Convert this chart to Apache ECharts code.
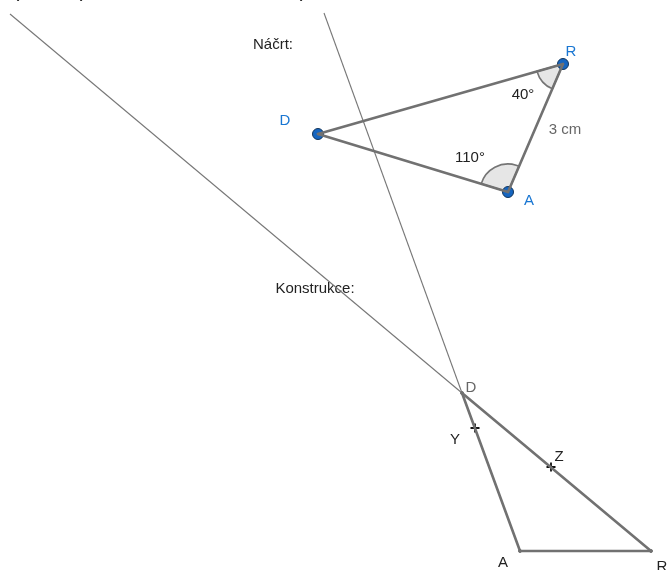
<!DOCTYPE html>
<html><head><meta charset="utf-8">
<style>html,body{margin:0;padding:0;background:#fff}#c{width:668px;height:570px}</style>
<script src="https://cdn.jsdelivr.net/npm/echarts@6/dist/echarts.min.js"></script>
</head><body><div id="c"></div>
<script>
var sketchR = [563, 64], sketchA = [508, 192], sketchD = [318, 134];
var conD = [462, 393], conA = [520, 551], conR = [651, 551];
var rayStarts = [[10, 14], [324, 13]];
var thickSegments = [[sketchD, sketchR], [sketchR, sketchA], [sketchA, sketchD], [conD, conA], [conA, conR], [conR, conD]];
var sketchPoints = [sketchR, sketchA, sketchD];
var smallPoints = [conD, conA, conR];
var tickPoints = [[475, 428], [551, 467]];
var angles = [[sketchA, sketchD, sketchR, 28], [sketchR, sketchA, sketchD, 27]];
var labels = [
  ['Náčrt:', 273, 45, '#222'], ['R', 571, 52, '#1976d2'], ['D', 285, 121, '#1976d2'],
  ['A', 529, 201, '#1976d2'], ['3 cm', 565, 130, '#666'], ['40°', 523, 95, '#222'],
  ['110°', 470, 158, '#222'], ['Konstrukce:', 315, 289, '#222'], ['D', 471, 388, '#666'],
  ['Y', 455, 440, '#222'], ['Z', 559, 457, '#222'], ['A', 503, 563, '#222'], ['R', 662, 567, '#222']
];
var topFragments = [['(', 16, -9], [')', 83, -9], ['p', 101, -11], ['p', 165, -11], [')', 303, -9]];

var series = [];
series.push({type: 'custom', coordinateSystem: 'cartesian2d', silent: true, data: angles.map(function (a, i) { return [a[0][0], a[0][1], i]; }),
  renderItem: function (params, api) {
    var a = angles[api.value(2)], c = api.coord([a[0][0], a[0][1]]);
    var s = Math.atan2(a[1][1] - a[0][1], a[1][0] - a[0][0]), e = Math.atan2(a[2][1] - a[0][1], a[2][0] - a[0][0]);
    return {type: 'sector', shape: {cx: c[0], cy: c[1], r: a[3], r0: 0, startAngle: s, endAngle: e, clockwise: true},
      style: {fill: '#e6e6e6', stroke: '#757575', lineWidth: 1.6}};
  }});
rayStarts.forEach(function (p) {
  series.push({type: 'line', data: [p, conD], symbol: 'none', silent: true, lineStyle: {color: '#777', width: 1.1}});
});
thickSegments.forEach(function (s) {
  series.push({type: 'line', data: s, symbol: 'none', silent: true, lineStyle: {color: '#717171', width: 2.6, cap: 'round'}});
});
series.push({type: 'scatter', data: sketchPoints, symbolSize: 11, silent: true, itemStyle: {color: '#1565c0', borderColor: '#12355b', borderWidth: 1, opacity: 1}});
series.push({type: 'scatter', data: smallPoints, symbolSize: 3.5, silent: true, itemStyle: {color: '#222', opacity: 1}});
series.push({type: 'scatter', data: tickPoints, symbol: 'path://M4 0H6V4H10V6H6V10H4V6H0V4H4Z', symbolSize: 9, silent: true, itemStyle: {color: '#111', opacity: 1}});
function textSeries(rows, font) {
  return {type: 'custom', coordinateSystem: 'cartesian2d', silent: true, clip: false,
    data: rows.map(function (r, i) { return [r[1], r[2], i]; }),
    renderItem: function (params, api) {
      var r = rows[api.value(2)], c = api.coord([r[1], r[2]]);
      return {type: 'text', style: {text: r[0], x: c[0], y: c[1], fill: r[3] || '#111', font: font, align: 'center', verticalAlign: 'middle'}};
    }};
}
series.push(textSeries(labels, '15px "Liberation Sans", Arial, sans-serif'));
series.push(textSeries(topFragments, '20px "Liberation Sans", Arial, sans-serif'));

var chart = echarts.init(document.getElementById('c'), null, {renderer: 'canvas'});
chart.setOption({
  animation: false, backgroundColor: '#fff',
  grid: {left: 0, right: 0, top: 0, bottom: 0},
  xAxis: {type: 'value', min: 0, max: 668, show: false},
  yAxis: {type: 'value', min: 0, max: 570, inverse: true, show: false},
  series: series
});
</script></body></html>
